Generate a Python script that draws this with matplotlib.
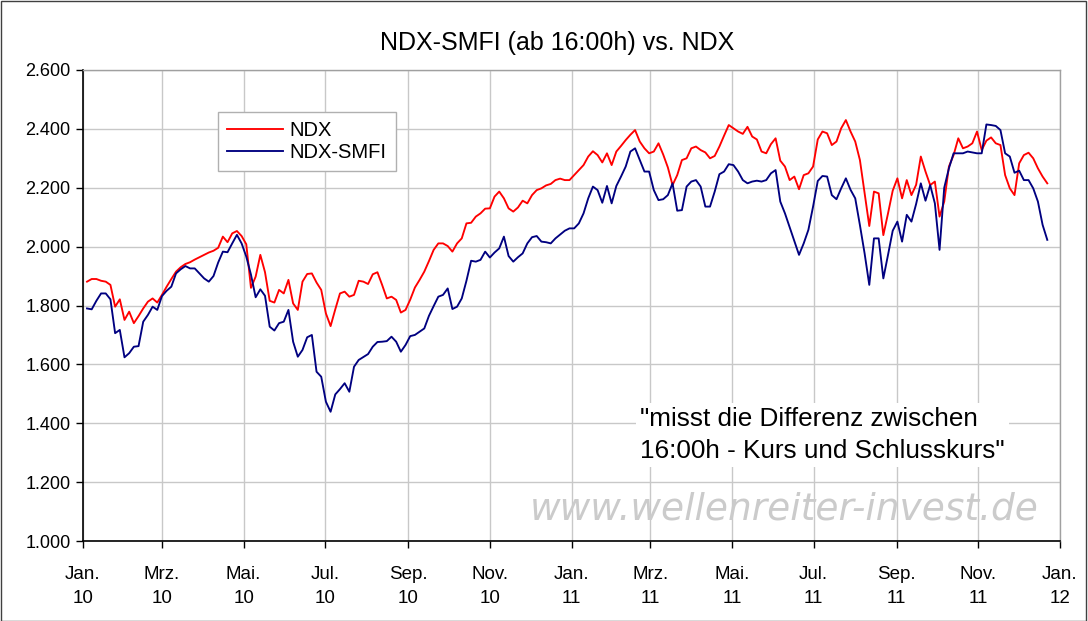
import matplotlib
matplotlib.use("Agg")
import matplotlib.pyplot as plt
from matplotlib.patches import Rectangle
import pandas as pd

plt.rcParams['font.family'] = ['Liberation Sans', 'DejaVu Sans']

# samples every 3.5 days starting 2010-01-04
start_date = "2010-01-04"
step = "84h"

ndx = [1881, 1890, 1890, 1884, 1881, 1870, 1796, 1821, 1751, 1779,
       1740, 1764, 1790, 1813, 1824, 1810, 1836, 1864, 1890, 1915,
       1930, 1941, 1947, 1956, 1964, 1972, 1980, 1986, 1996, 2034,
       2015, 2045, 2053, 2036, 2008, 1860, 1898, 1972, 1913, 1816,
       1810, 1853, 1841, 1887, 1807, 1785, 1881, 1907, 1909, 1878,
       1853, 1773, 1730, 1787, 1841, 1847, 1830, 1836, 1884, 1881,
       1873, 1906, 1913, 1870, 1824, 1830, 1819, 1776, 1785, 1820,
       1861, 1887, 1915, 1951, 1989, 2011, 2011, 2002, 1983, 2011,
       2028, 2079, 2081, 2102, 2113, 2129, 2130, 2170, 2187, 2164,
       2130, 2119, 2133, 2156, 2147, 2175, 2192, 2198, 2208, 2213,
       2226, 2231, 2226, 2226, 2243, 2260, 2277, 2306, 2324, 2311,
       2286, 2317, 2277, 2323, 2342, 2362, 2380, 2396, 2357, 2334,
       2317, 2323, 2351, 2313, 2269, 2209, 2243, 2294, 2300, 2334,
       2340, 2328, 2320, 2300, 2308, 2340, 2377, 2413, 2402, 2391,
       2383, 2407, 2374, 2364, 2323, 2317, 2348, 2368, 2292, 2272,
       2226, 2238, 2195, 2243, 2249, 2272, 2364, 2391, 2385, 2345,
       2357, 2402, 2430, 2391, 2357, 2294, 2181, 2070, 2187, 2181,
       2039, 2113, 2190, 2232, 2164, 2226, 2175, 2210, 2306, 2255,
       2209, 2221, 2102, 2153, 2272, 2311, 2368, 2334, 2340, 2351,
       2391, 2328, 2360, 2371, 2351, 2345, 2243, 2198, 2175, 2283,
       2311, 2319, 2300, 2266, 2238, 2215]

ndx_smfi = [1790, 1787, 1816, 1841, 1841, 1821, 1706, 1717, 1624, 1638,
            1660, 1662, 1745, 1768, 1796, 1785, 1832, 1850, 1864, 1909,
            1923, 1934, 1926, 1926, 1909, 1892, 1881, 1900, 1946, 1983,
            1981, 2011, 2040, 2011, 1966, 1905, 1828, 1855, 1833, 1728,
            1715, 1740, 1745, 1785, 1677, 1626, 1649, 1692, 1700, 1575,
            1558, 1473, 1439, 1498, 1516, 1536, 1507, 1592, 1615, 1625,
            1635, 1660, 1676, 1677, 1679, 1694, 1677, 1643, 1666, 1696,
            1700, 1711, 1722, 1765, 1798, 1830, 1836, 1858, 1788, 1796,
            1824, 1884, 1952, 1949, 1955, 1983, 1963, 1980, 1994, 2034,
            1968, 1949, 1964, 1977, 2011, 2032, 2036, 2017, 2015, 2011,
            2028, 2041, 2054, 2062, 2062, 2079, 2113, 2164, 2204, 2192,
            2149, 2206, 2147, 2206, 2238, 2272, 2323, 2334, 2294, 2255,
            2255, 2192, 2158, 2161, 2175, 2215, 2122, 2124, 2204, 2221,
            2226, 2204, 2136, 2136, 2187, 2246, 2255, 2280, 2277, 2255,
            2226, 2215, 2221, 2224, 2221, 2226, 2249, 2260, 2153, 2113,
            2066, 2020, 1972, 2011, 2057, 2136, 2223, 2240, 2238, 2175,
            2161, 2198, 2232, 2193, 2164, 2073, 1977, 1870, 2028, 2028,
            1892, 1972, 2054, 2085, 2017, 2108, 2085, 2145, 2215, 2156,
            2209, 2147, 1989, 2200, 2266, 2317, 2317, 2317, 2323, 2320,
            2317, 2317, 2415, 2413, 2410, 2396, 2317, 2306, 2251, 2258,
            2226, 2226, 2198, 2153, 2074, 2023]

dates = pd.date_range(start_date, periods=len(ndx), freq=step)

tick_dates = ["2010-01-01", "2010-03-01", "2010-05-01", "2010-07-01", "2010-09-01",
              "2010-11-01", "2011-01-01", "2011-03-01", "2011-05-01", "2011-07-01",
              "2011-09-01", "2011-11-01", "2012-01-01"]
tick_labels = ["Jan.\n10", "Mrz.\n10", "Mai.\n10", "Jul.\n10", "Sep.\n10", "Nov.\n10",
               "Jan.\n11", "Mrz.\n11", "Mai.\n11", "Jul.\n11", "Sep.\n11", "Nov.\n11",
               "Jan.\n12"]
y_ticks = [1000, 1200, 1400, 1600, 1800, 2000, 2200, 2400, 2600]
y_labels = ["1.000", "1.200", "1.400", "1.600", "1.800", "2.000", "2.200", "2.400", "2.600"]

W, H = 1088, 621
fig = plt.figure(figsize=(W / 100, H / 100), dpi=100)
fig.patch.set_facecolor("white")
ax = fig.add_axes([83 / W, 1 - 541 / H, (1060 - 83) / W, (541 - 70) / H])

ax.plot(dates, ndx, color="#ff0000", lw=1.35, label="NDX", zorder=3)
ax.plot(dates, ndx_smfi, color="#000080", lw=1.35, label="NDX-SMFI", zorder=3)

ax.set_xlim(pd.Timestamp("2010-01-01"), pd.Timestamp("2012-01-01"))
ax.set_ylim(1000, 2600)
ax.set_xticks([pd.Timestamp(d) for d in tick_dates])
ax.set_xticklabels(tick_labels, fontsize=13.5, linespacing=1.55)
ax.set_yticks(y_ticks)
ax.set_yticklabels(y_labels, fontsize=13)
ax.tick_params(axis="x", direction="out", length=5, width=1, pad=13, colors="black")
ax.tick_params(axis="y", direction="out", length=5, width=1, pad=4, colors="black")
ax.grid(True, color="#c8c8c8", lw=1)
ax.set_axisbelow(True)
for side in ["left", "bottom"]:
    ax.spines[side].set_color("black")
    ax.spines[side].set_linewidth(1.2)
for side in ["top", "right"]:
    ax.spines[side].set_color("#a0a0a0")
    ax.spines[side].set_linewidth(1)

fig.text(557 / W, 1 - 43 / H, "NDX-SMFI (ab 16:00h) vs. NDX", ha="center", va="center",
         fontsize=18)

leg = ax.legend(loc="upper left", bbox_to_anchor=((218 - 83) / 977, (541 - 112) / 471),
                borderaxespad=0, fontsize=14.5, handlelength=2.8, frameon=True,
                fancybox=False, edgecolor="#b0b0b0", framealpha=1,
                borderpad=0.45, labelspacing=0.15, handletextpad=0.3)
leg.get_frame().set_linewidth(1)

ax.text((640 - 83) / 977, (541 - 435) / 471,
        "\"misst die Differenz zwischen\n16:00h - Kurs und Schlusskurs\"",
        transform=ax.transAxes, ha="left", va="center", fontsize=18.8, linespacing=1.38,
        bbox=dict(facecolor="white", edgecolor="none", pad=3), zorder=4)

ax.text((784 - 83) / 977, (541 - 510) / 471, "www.wellenreiter-invest.de",
        transform=ax.transAxes, ha="center", va="center", fontsize=27,
        family="DejaVu Sans", style="italic", color="#cbcbcb", zorder=2)

fig.patches.append(Rectangle((0.5 / W, 0.5 / H), (W - 3) / W, (H - 1) / H,
                             transform=fig.transFigure, fill=False,
                             edgecolor="#404040", lw=1))

fig.savefig("out.png", dpi=100)
